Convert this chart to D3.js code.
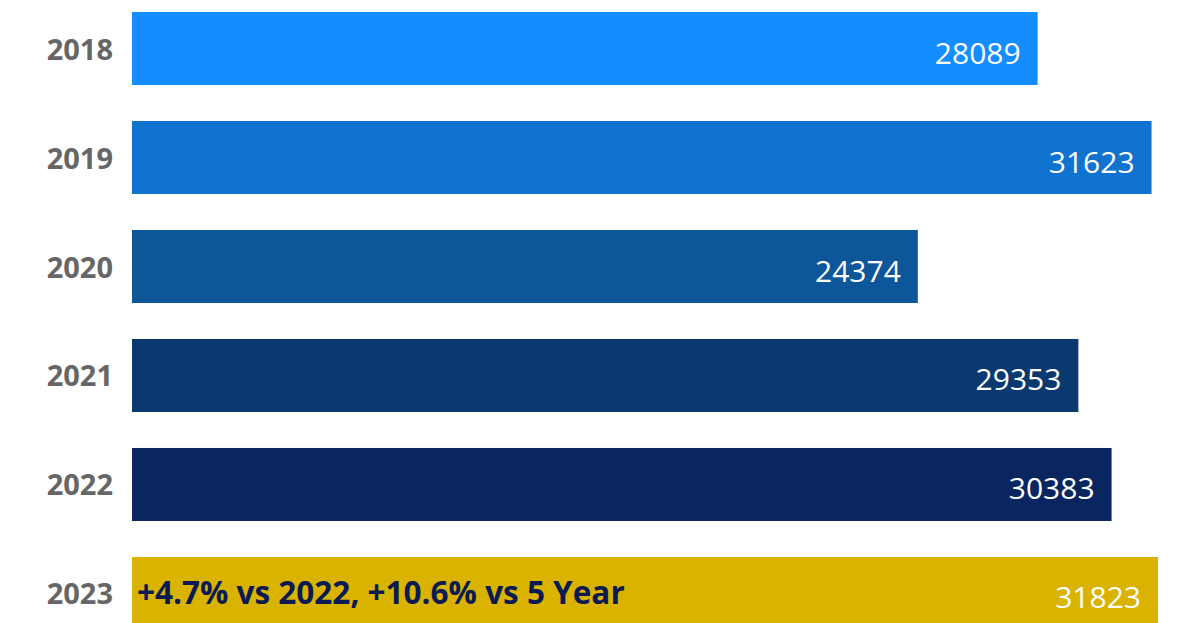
<!DOCTYPE html>
<html>
<head>
<meta charset="utf-8">
<script src="https://cdn.jsdelivr.net/npm/d3@7"></script>
<style>
  html, body { margin: 0; padding: 0; background: #fff; overflow: hidden; }
  svg { display: block; }
</style>
</head>
<body>
<svg id="chart" width="1194" height="623"></svg>
<script>
const years = ["2018", "2019", "2020", "2021", "2022", "2023"];
const values = [28089, 31623, 24374, 29353, 30383, 31823];
const barColors = ["#138DFF", "#1073D0", "#0C5699", "#0A3970", "#0A2660", "#D9B300"];
const annotation = "+4.7% vs 2022, +10.6% vs 5 Year";

const svg = d3.select("#chart");

const x = d3.scaleLinear().domain([0, d3.max(values)]).range([132, 1158]);
const y = d3.scaleBand().domain(years).range([12, 630]).paddingInner(0.33).paddingOuter(0);

const data = years.map((yr, i) => ({ year: yr, value: values[i], color: barColors[i] }));

svg.selectAll("rect.bar").data(data).join("rect")
  .attr("class", "bar")
  .attr("x", x(0))
  .attr("y", d => y(d.year))
  .attr("width", d => x(d.value) - x(0))
  .attr("height", y.bandwidth())
  .attr("fill", d => d.color);

svg.selectAll("text.year").data(data).join("text")
  .attr("class", "year")
  .attr("x", x(0) - 19)
  .attr("y", d => y(d.year) + y.bandwidth() / 2 + 11)
  .attr("text-anchor", "end")
  .attr("font-family", "'Open Sans', sans-serif")
  .attr("font-weight", "bold")
  .attr("font-size", 29)
  .attr("fill", "#666666")
  .text(d => d.year);

svg.selectAll("text.val").data(data).join("text")
  .attr("class", "val")
  .attr("x", d => x(d.value) - 17)
  .attr("y", d => y(d.year) + y.bandwidth() / 2 + 15)
  .attr("text-anchor", "end")
  .attr("font-family", "'Open Sans', sans-serif")
  .attr("font-size", 30)
  .attr("fill", "#ffffff")
  .text(d => d.value);

const last = data[data.length - 1];
svg.append("text")
  .attr("x", x(0) + 5)
  .attr("y", y(last.year) + y.bandwidth() / 2 + 11)
  .attr("font-family", "'Open Sans', sans-serif")
  .attr("font-weight", "bold")
  .attr("font-size", 31.5)
  .attr("fill", "#0C1A52")
  .text(annotation);
</script>
</body>
</html>
